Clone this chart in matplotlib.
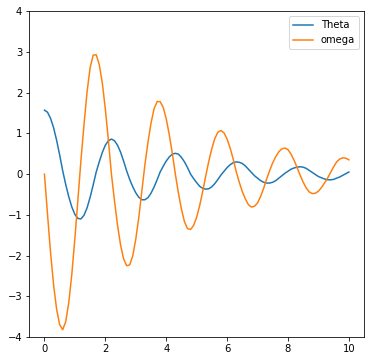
import numpy as np
import matplotlib
matplotlib.use("Agg")
import matplotlib.pyplot as plt

# time samples (step 0.1)
t = [round(0.1 * i, 1) for i in range(101)]

# values
theta = [
    1.57, 1.52, 1.37, 1.14, 0.83, 0.47, 0.08, -0.26, -0.56, -0.81,
    -0.99, -1.09, -1.10, -1.01, -0.83, -0.57, -0.27, 0.05, 0.30, 0.53,
    0.71, 0.82, 0.86, 0.82, 0.71, 0.54, 0.32, 0.08, -0.13, -0.31,
    -0.46, -0.57, -0.63, -0.63, -0.58, -0.47, -0.32, -0.14, 0.05, 0.19,
    0.32, 0.42, 0.49, 0.51, 0.49, 0.41, 0.30, 0.16, 0.00, -0.11,
    -0.21, -0.30, -0.35, -0.37, -0.36, -0.31, -0.23, -0.13, -0.02, 0.07,
    0.16, 0.23, 0.28, 0.30, 0.29, 0.26, 0.20, 0.12, 0.04, -0.04,
    -0.10, -0.16, -0.20, -0.22, -0.22, -0.20, -0.16, -0.10, -0.04, 0.02,
    0.07, 0.12, 0.15, 0.17, 0.18, 0.17, 0.14, 0.09, 0.04, -0.01,
    -0.06, -0.09, -0.12, -0.14, -0.14, -0.13, -0.10, -0.07, -0.03, 0.01,
    0.05,
]

omega = [
    0.00, -0.98, -1.92, -2.72, -3.32, -3.70, -3.82, -3.62, -3.15, -2.45,
    -1.58, -0.62, 0.35, 1.22, 2.02, 2.61, 2.92, 2.93, 2.69, 2.24,
    1.60, 0.83, 0.00, -0.65, -1.25, -1.74, -2.08, -2.25, -2.23, -2.01,
    -1.60, -1.06, -0.41, 0.23, 0.78, 1.25, 1.60, 1.78, 1.78, 1.64,
    1.36, 0.97, 0.51, 0.00, -0.46, -0.86, -1.17, -1.34, -1.36, -1.26,
    -1.06, -0.77, -0.42, -0.04, 0.32, 0.63, 0.88, 1.03, 1.07, 1.01,
    0.86, 0.64, 0.37, 0.06, -0.20, -0.43, -0.61, -0.75, -0.81, -0.79,
    -0.71, -0.55, -0.35, -0.12, 0.09, 0.28, 0.43, 0.55, 0.62, 0.64,
    0.60, 0.49, 0.34, 0.16, -0.03, -0.20, -0.34, -0.44, -0.48, -0.47,
    -0.42, -0.33, -0.22, -0.10, 0.04, 0.18, 0.30, 0.37, 0.40, 0.39,
    0.35,
]

fig = plt.figure(figsize=(370 / 72, 361 / 72), dpi=72)
ax = fig.add_subplot(111)
fig.subplots_adjust(left=0.079, right=0.984, bottom=0.0665, top=0.969)

ax.plot(t, theta, label="Theta")
ax.plot(t, omega, label="omega")
ax.set_ylim(-4, 4)
ax.legend(loc="upper right")

fig.savefig("out.png", dpi=72)
